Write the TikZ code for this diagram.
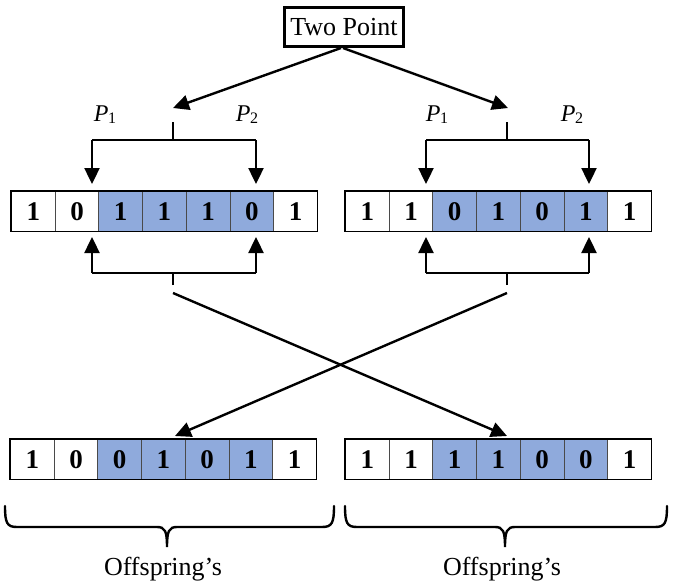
\documentclass[tikz,border=0pt]{standalone}
\usepackage{fontspec}
\setmainfont{Liberation Serif}
\usetikzlibrary{arrows.meta}
\definecolor{cellblue}{HTML}{8FAADC}
\definecolor{cellline}{HTML}{4A4A4A}
\newcommand\chromo[4]{% name, x, y, list
  \foreach \v/\f [count=\i] in {#4} {
    \node[cell, fill=\f] (#1-\i) at ({#2+(\i-1)*43.7},#3) {\v};
  }
  \draw[line width=1.1pt] (#1-1.north west) rectangle (#1-7.south east);
}
\newcommand\offbrace[4]{% name, x1, x2, xm
  \coordinate (#1-l) at (#2,506);
  \coordinate (#1-r) at (#3,506);
  \coordinate (#1-m) at (#4,547);
  \draw[bracestyle] (#1-l) .. controls (#2,523) and ({#2+2},527) .. ({#2+12},527)
     -- ({#4-10},527) .. controls ({#4-2},527) and (#4,531) .. (#1-m)
     .. controls (#4,531) and ({#4+2},527) .. ({#4+10},527)
     -- ({#3-12},527) .. controls ({#3-2},527) and (#3,523) .. (#1-r);
}
\newcommand\plabel[1]{\fontsize{24}{24}\selectfont\textit{P}\kern-0.5pt\raisebox{-2.5pt}{\fontsize{16}{16}\selectfont #1}}
\begin{document}
\begin{tikzpicture}[x=1pt,y=-1pt,
  arr/.style={line width=2.4pt,-{Triangle[length=16pt,width=15pt]}},
  ln/.style={line width=2.4pt},
  bracestyle/.style={line width=2.4pt,line cap=round},
  cell/.style={draw=cellline,line width=0.9pt,minimum width=43.7pt,minimum height=40pt,
    inner sep=0pt,anchor=north west,font=\fontsize{27}{27}\selectfont\bfseries},
  plab/.style={anchor=base,inner sep=0pt},
  big/.style={font=\fontsize{26}{26}\selectfont}]
\useasboundingbox (0,0) rectangle (673,582);

% Two Point box
\node[draw,line width=2.6pt,minimum width=119pt,minimum height=39pt,inner sep=0pt,big] (tp) at (344,27) {Two Point};
\coordinate (tpl) at (341,48);
\coordinate (tpr) at (343,48);
\coordinate (tipL) at (173,108);
\coordinate (tipR) at (508,108);
\draw[arr] (tpl) -- (tipL);
\draw[arr] (tpr) -- (tipR);

% P labels
\node[plab] (pL1) at (105,121) {\plabel{1}};
\node[plab] (pL2) at (247,121) {\plabel{2}};
\node[plab] (pR1) at (437,121) {\plabel{1}};
\node[plab] (pR2) at (572,121) {\plabel{2}};

% chromosomes
\chromo{A}{11}{191}{1/white,0/white,1/cellblue,1/cellblue,1/cellblue,0/cellblue,1/white}
\chromo{B}{345}{191}{1/white,1/white,0/cellblue,1/cellblue,0/cellblue,1/cellblue,1/white}
\chromo{C}{10}{439}{1/white,0/white,0/cellblue,1/cellblue,0/cellblue,1/cellblue,1/white}
\chromo{D}{345}{439}{1/white,1/white,1/cellblue,1/cellblue,0/cellblue,0/cellblue,1/white}

% top brackets
\coordinate (atT) at (173,122); \coordinate (atM) at (173,140);
\coordinate (atL) at (92,140);  \coordinate (atR) at (256,140);
\coordinate (atLd) at (92,184); \coordinate (atRd) at (256,184);
\draw[ln] (atT) -- (atM);
\draw[ln] (atL) -- (atR);
\draw[arr] (atL) -- (atLd);
\draw[arr] (atR) -- (atRd);

\coordinate (btT) at (507,122); \coordinate (btM) at (507,140);
\coordinate (btL) at (426,140); \coordinate (btR) at (589,140);
\coordinate (btLd) at (426,184); \coordinate (btRd) at (589,184);
\draw[ln] (btT) -- (btM);
\draw[ln] (btL) -- (btR);
\draw[arr] (btL) -- (btLd);
\draw[arr] (btR) -- (btRd);

% bottom brackets
\coordinate (abB) at (173,285); \coordinate (abM) at (173,273);
\coordinate (abL) at (92,273);  \coordinate (abR) at (256,273);
\coordinate (abLu) at (92,237); \coordinate (abRu) at (256,237);
\draw[ln] (abB) -- (abM);
\draw[ln] (abL) -- (abR);
\draw[arr] (abL) -- (abLu);
\draw[arr] (abR) -- (abRu);

\coordinate (bbB) at (507,285); \coordinate (bbM) at (507,273);
\coordinate (bbL) at (426,273); \coordinate (bbR) at (589,273);
\coordinate (bbLu) at (426,237); \coordinate (bbRu) at (589,237);
\draw[ln] (bbB) -- (bbM);
\draw[ln] (bbL) -- (bbR);
\draw[arr] (bbL) -- (bbLu);
\draw[arr] (bbR) -- (bbRu);

% crossing
\coordinate (xL) at (173,293); \coordinate (xR) at (507,293);
\coordinate (xtL) at (175,436); \coordinate (xtR) at (507,436);
\draw[arr] (xL) -- (xtR);
\draw[arr] (xR) -- (xtL);

% braces
\offbrace{brL}{5}{334}{167}
\offbrace{brR}{345}{667}{505}
\node[anchor=base,inner sep=0pt,big] (offL) at (163,575) {Offspring’s};
\node[anchor=base,inner sep=0pt,big] (offR) at (502,575) {Offspring’s};
\end{tikzpicture}
\end{document}
